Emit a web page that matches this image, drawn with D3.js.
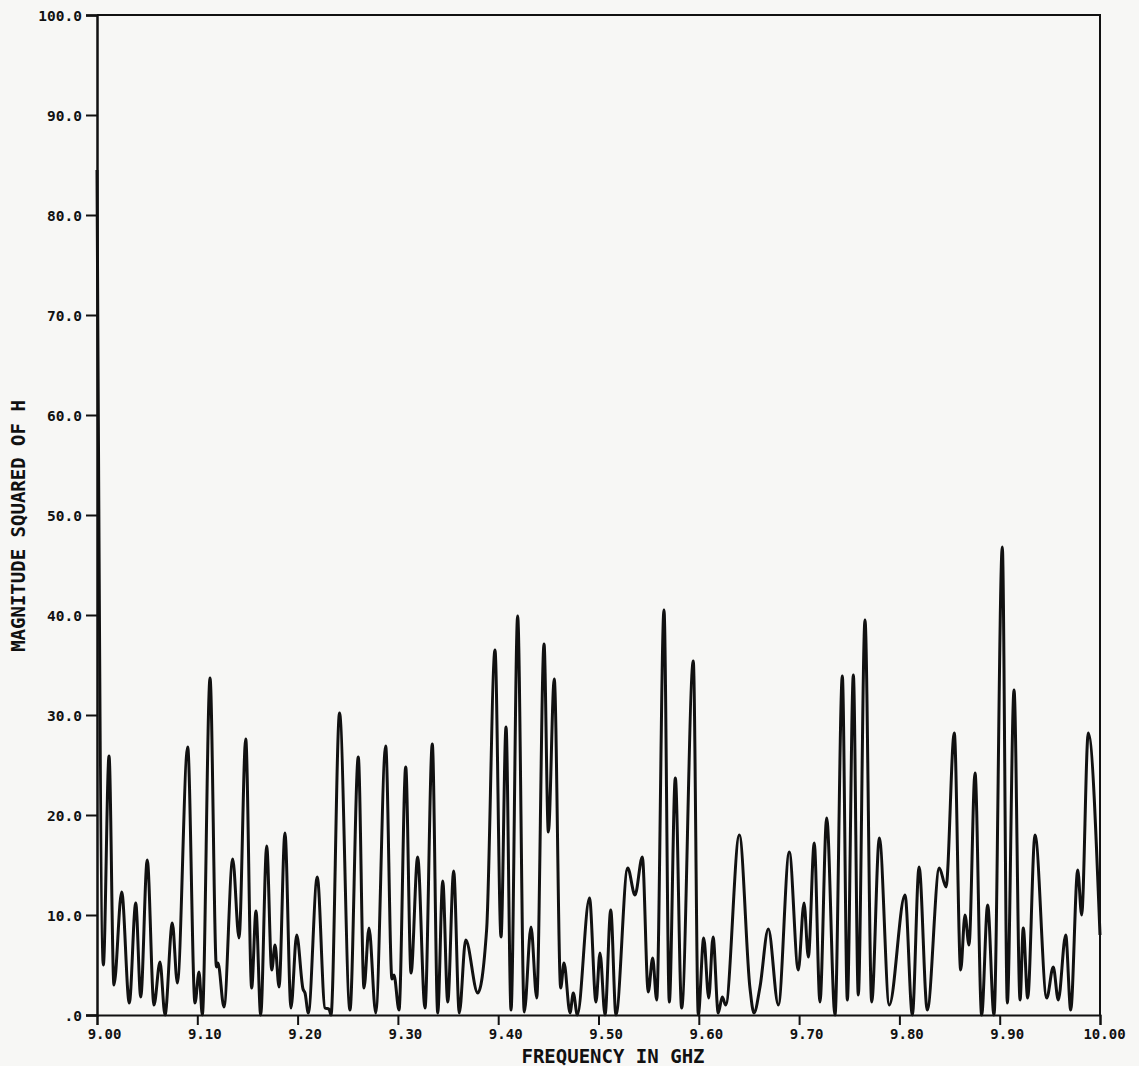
<!DOCTYPE html>
<html>
<head>
<meta charset="utf-8">
<script src="https://cdn.jsdelivr.net/npm/d3@7"></script>
<style>
  html, body { margin: 0; padding: 0; background: #f7f7f5; }
  svg { display: block; }
  .tick text { font-family: "DejaVu Sans Mono", monospace; font-weight: bold; }
</style>
</head>
<body>
<svg id="chart" width="1139" height="1066"></svg>
<script>
// ---- data ----
const xTickValues = [9.0, 9.1, 9.2, 9.3, 9.4, 9.5, 9.6, 9.7, 9.8, 9.9, 10.0];
const xTickLabels = ["9.00","9.10","9.20","9.30","9.40","9.50","9.60","9.70","9.80","9.90","10.00"];
const yTickValues = [0, 10, 20, 30, 40, 50, 60, 70, 80, 90, 100];
const yTickLabels = [".0","10.0","20.0","30.0","40.0","50.0","60.0","70.0","80.0","90.0","100.0"];
const xTitle = "FREQUENCY IN GHZ";
const yTitle = "MAGNITUDE SQUARED OF H";

// frequency (GHz) of each traced turning point of the curve
const freqGHz = [
  9.0000, 9.0063, 9.0120, 9.0169, 9.0246, 9.0322, 9.0386, 9.0436, 9.0501, 9.0568,
  9.0628, 9.0678, 9.0751, 9.0801, 9.0904, 9.0977, 9.1017, 9.1050, 9.1127, 9.1191,
  9.1206, 9.1266, 9.1353, 9.1416, 9.1483, 9.1542, 9.1585, 9.1632, 9.1692, 9.1742,
  9.1775, 9.1815, 9.1874, 9.1934, 9.1991, 9.2054, 9.2074, 9.2107, 9.2196, 9.2273,
  9.2313, 9.2333, 9.2418, 9.2522, 9.2605, 9.2662, 9.2712, 9.2779, 9.2878, 9.2941,
  9.2961, 9.3011, 9.3078, 9.3131, 9.3197, 9.3270, 9.3343, 9.3397, 9.3447, 9.3497,
  9.3556, 9.3612, 9.3676, 9.3796, 9.3885, 9.3968, 9.4028, 9.4078, 9.4128, 9.4194,
  9.4260, 9.4327, 9.4384, 9.4457, 9.4500, 9.4559, 9.4623, 9.4656, 9.4716, 9.4749,
  9.4789, 9.4910, 9.4975, 9.5015, 9.5065, 9.5122, 9.5174, 9.5291, 9.5364, 9.5437,
  9.5496, 9.5540, 9.5580, 9.5653, 9.5706, 9.5766, 9.5829, 9.5945, 9.5995, 9.6049,
  9.6099, 9.6142, 9.6194, 9.6234, 9.6268, 9.6404, 9.6510, 9.6550, 9.6610, 9.6693,
  9.6793, 9.6902, 9.6992, 9.7049, 9.7092, 9.7151, 9.7208, 9.7275, 9.7358, 9.7431,
  9.7481, 9.7541, 9.7590, 9.7657, 9.7724, 9.7800, 9.7899, 9.8056, 9.8129, 9.8196,
  9.8278, 9.8398, 9.8465, 9.8547, 9.8611, 9.8654, 9.8694, 9.8754, 9.8820, 9.8880,
  9.8943, 9.9026, 9.9076, 9.9143, 9.9203, 9.9235, 9.9279, 9.9352, 9.9469, 9.9534,
  9.9584, 9.9658, 9.9708, 9.9778, 9.9817, 9.9883, 10.0000
];
// |H|^2 at those frequencies
const magSquared = [
  84.5, 5.0, 25.9, 3.0, 12.3, 1.2, 11.2, 1.8, 15.5, 1.0,
  5.3, 0.0, 9.2, 3.2, 26.8, 1.2, 4.3, 0.0, 33.7, 4.8,
  5.2, 0.8, 15.6, 7.7, 27.6, 2.7, 10.4, 0.0, 16.9, 4.5,
  7.0, 2.8, 18.2, 0.7, 8.0, 2.6, 2.2, 0.2, 13.8, 0.7,
  0.6, 0.0, 30.2, 0.5, 25.8, 2.7, 8.7, 0.2, 26.9, 3.6,
  4.0, 0.5, 24.8, 4.2, 15.8, 0.7, 27.1, 0.2, 13.4, 1.3,
  14.4, 0.2, 7.5, 2.2, 8.6, 36.5, 7.8, 28.8, 0.5, 39.9,
  0.3, 8.8, 1.7, 37.1, 18.3, 33.6, 2.7, 5.2, 0.2, 2.2,
  0.0, 11.7, 1.3, 6.2, 0.0, 10.5, 0.0, 14.7, 12.0, 15.8,
  2.3, 5.7, 1.5, 40.5, 1.3, 23.7, 0.7, 35.4, 0.0, 7.7,
  1.7, 7.8, 0.2, 1.8, 1.0, 18.0, 2.7, 0.2, 2.8, 8.6,
  1.0, 16.3, 4.5, 11.2, 5.8, 17.2, 1.3, 19.7, 0.0, 33.9,
  1.5, 34.0, 2.0, 39.5, 1.3, 17.7, 1.0, 12.0, 0.0, 14.8,
  0.5, 14.7, 12.8, 28.2, 4.5, 10.0, 7.0, 24.2, 0.0, 11.0,
  0.0, 46.8, 1.2, 32.5, 1.5, 8.7, 1.7, 18.0, 1.7, 4.8,
  1.5, 8.0, 0.5, 14.5, 10.0, 28.2, 8.0
];

// ---- layout ----
const svg = d3.select("#chart");
const plotL = 97, plotR = 1100, plotT = 15, plotB = 1015;
const x = d3.scaleLinear().domain([9, 10]).range([plotL, plotR]);
const y = d3.scaleLinear().domain([0, 100]).range([plotB, plotT]);
const ink = "#111";

const points = freqGHz.map((f, i) => [f, magSquared[i]]);

// curve
const line = d3.line()
  .x(d => x(d[0]))
  .y(d => y(Math.max(0, d[1])))
  .curve(d3.curveMonotoneX);

svg.append("path")
  .datum(points)
  .attr("d", line)
  .attr("fill", "none")
  .attr("stroke", ink)
  .attr("stroke-width", 3)
  .attr("stroke-linejoin", "round");

// frame (top and right)
svg.append("path")
  .attr("d", `M${plotL},${plotT}H${plotR}V${plotB}`)
  .attr("fill", "none")
  .attr("stroke", ink)
  .attr("stroke-width", 2);

// y axis
const yAxis = d3.axisLeft(y)
  .tickValues(yTickValues)
  .tickFormat((d, i) => yTickLabels[i])
  .tickSize(11)
  .tickPadding(4);
const gy = svg.append("g").attr("transform", `translate(${plotL},0)`).call(yAxis);
gy.select(".domain").attr("stroke", ink).attr("stroke-width", 2.5);
gy.selectAll(".tick line").attr("stroke", ink).attr("stroke-width", 2);
gy.selectAll(".tick text").attr("fill", ink).style("font-size", "14.5px").attr("dy", "0.36em");

// x axis
const xAxis = d3.axisBottom(x)
  .tickValues(xTickValues)
  .tickFormat((d, i) => xTickLabels[i])
  .tickSize(10)
  .tickPadding(4);
const gx = svg.append("g").attr("transform", `translate(0,${plotB})`).call(xAxis);
gx.select(".domain").attr("stroke", ink).attr("stroke-width", 2);
gx.selectAll(".tick line").attr("stroke", ink).attr("stroke-width", 2);
gx.selectAll(".tick text").attr("fill", ink).style("font-size", "14px")
  .attr("dx", (d, i) => (xTickLabels[i].length > 4 ? 4 : 7));

// axis titles
svg.append("text")
  .attr("x", 613).attr("y", 1063)
  .attr("text-anchor", "middle")
  .style("font-family", "'DejaVu Sans Mono', monospace")
  .style("font-weight", "bold")
  .style("font-size", "19px")
  .attr("fill", ink)
  .text(xTitle);

svg.append("text")
  .attr("transform", "translate(25,526) rotate(-90)")
  .attr("text-anchor", "middle")
  .style("font-family", "'DejaVu Sans Mono', monospace")
  .style("font-weight", "bold")
  .style("font-size", "19px")
  .attr("fill", ink)
  .text(yTitle);
</script>
</body>
</html>
